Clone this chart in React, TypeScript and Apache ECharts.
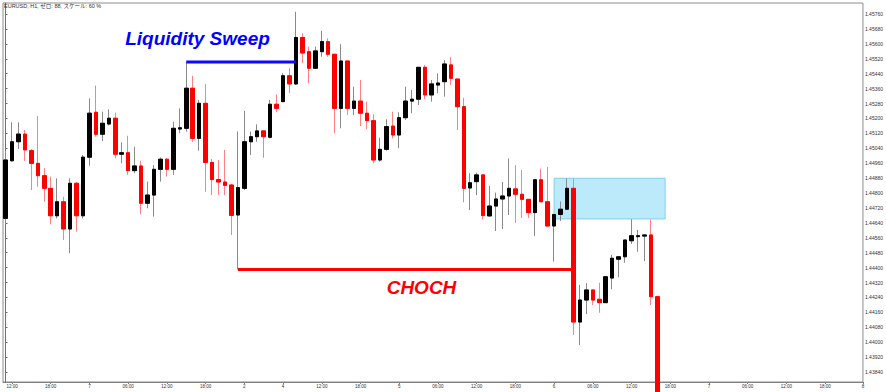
import React, { useEffect, useRef } from "react";
import * as echarts from "echarts";

// ---- data (EURUSD H1 candles, left to right) ----
const opens = [
  1.44664, 1.44973, 1.45075, 1.45116, 1.45027, 1.44959, 1.44893, 1.44825, 1.44678, 1.44753,
  1.44607, 1.44852, 1.44678, 1.44992, 1.45233, 1.45115, 1.45170, 1.45201, 1.45008, 1.45016,
  1.44920, 1.44945, 1.44745, 1.44789, 1.44927, 1.44981, 1.44927, 1.45143, 1.45147, 1.45362,
  1.45093, 1.45281, 1.44964, 1.44872, 1.44859, 1.44843, 1.44682, 1.44825, 1.45075, 1.45102,
  1.45133, 1.45099, 1.45276, 1.45290, 1.45429, 1.45385, 1.45634, 1.45558, 1.45469, 1.45558,
  1.45612, 1.45544, 1.45254, 1.45508, 1.45254, 1.45293, 1.45228, 1.45188, 1.44977, 1.45034,
  1.45159, 1.45111, 1.45204, 1.45293, 1.45303, 1.45474, 1.45326, 1.45379, 1.45397, 1.45487,
  1.45411, 1.45263, 1.44827, 1.44861, 1.44897, 1.44677, 1.44730, 1.44768, 1.44784, 1.44822,
  1.44793, 1.44766, 1.44695, 1.44871, 1.44753, 1.44623, 1.44685, 1.44713, 1.44825, 1.44108,
  1.44226, 1.44280, 1.44230, 1.44212, 1.44344, 1.44445, 1.44458, 1.44544, 1.44566, 1.44569,
  1.44575, 1.44244,
];
const closes = [
  1.44977, 1.45075, 1.45116, 1.45031, 1.44959, 1.44893, 1.44825, 1.44678, 1.44753, 1.44607,
  1.44852, 1.44678, 1.44992, 1.45228, 1.45115, 1.45174, 1.45201, 1.45008, 1.45016, 1.44920,
  1.44945, 1.44745, 1.44789, 1.44927, 1.44981, 1.44927, 1.45147, 1.45150, 1.45362, 1.45093,
  1.45281, 1.44964, 1.44872, 1.44859, 1.44841, 1.44680, 1.44829, 1.45075, 1.45102, 1.45133,
  1.45102, 1.45276, 1.45254, 1.45429, 1.45385, 1.45634, 1.45551, 1.45469, 1.45562, 1.45612,
  1.45544, 1.45254, 1.45508, 1.45254, 1.45293, 1.45228, 1.45188, 1.44977, 1.45034, 1.45156,
  1.45111, 1.45204, 1.45293, 1.45303, 1.45474, 1.45326, 1.45385, 1.45390, 1.45492, 1.45415,
  1.45263, 1.44825, 1.44855, 1.44897, 1.44679, 1.44730, 1.44768, 1.44784, 1.44825, 1.44793,
  1.44766, 1.44695, 1.44871, 1.44753, 1.44623, 1.44685, 1.44713, 1.44825, 1.44108, 1.44226,
  1.44280, 1.44226, 1.44212, 1.44351, 1.44450, 1.44458, 1.44548, 1.44571, 1.44571, 1.44575,
  1.44244, 1.43700,
];
const highs = [
  1.45027, 1.45179, 1.45179, 1.45138, 1.45036, 1.45213, 1.44933, 1.44888, 1.44879, 1.44780,
  1.44879, 1.44860, 1.45004, 1.45308, 1.45376, 1.45236, 1.45249, 1.45231, 1.45072, 1.45107,
  1.45048, 1.44973, 1.44861, 1.44950, 1.44990, 1.44988, 1.45182, 1.45254, 1.45501, 1.45429,
  1.45299, 1.45385, 1.44982, 1.44977, 1.45031, 1.44848, 1.45130, 1.45240, 1.45129, 1.45168,
  1.45133, 1.45299, 1.45329, 1.45442, 1.45469, 1.45772, 1.45657, 1.45585, 1.45585, 1.45670,
  1.45630, 1.45544, 1.45598, 1.45508, 1.45370, 1.45406, 1.45290, 1.45222, 1.45097, 1.45195,
  1.45236, 1.45233, 1.45370, 1.45352, 1.45476, 1.45487, 1.45406, 1.45442, 1.45513, 1.45528,
  1.45411, 1.45311, 1.44906, 1.44909, 1.44897, 1.44838, 1.44802, 1.44859, 1.44985, 1.44950,
  1.44923, 1.44766, 1.44871, 1.44931, 1.44940, 1.44685, 1.44755, 1.44878, 1.44878, 1.44307,
  1.44317, 1.44280, 1.44319, 1.44351, 1.44468, 1.44458, 1.44548, 1.44659, 1.44602, 1.44575,
  1.44659, 1.44249,
];
const lows = [
  1.44632, 1.44968, 1.45036, 1.44972, 1.44816, 1.44834, 1.44753, 1.44632, 1.44664, 1.44548,
  1.44477, 1.44593, 1.44664, 1.44946, 1.45102, 1.45079, 1.45162, 1.44986, 1.44959, 1.44897,
  1.44906, 1.44687, 1.44718, 1.44673, 1.44861, 1.44888, 1.44897, 1.45120, 1.45129, 1.45075,
  1.45027, 1.44807, 1.44789, 1.44789, 1.44789, 1.44575, 1.44390, 1.44816, 1.45004, 1.45075,
  1.44989, 1.45093, 1.45233, 1.45288, 1.45335, 1.45379, 1.45496, 1.45388, 1.45465, 1.45531,
  1.45531, 1.45120, 1.45147, 1.45218, 1.45218, 1.45159, 1.45142, 1.44959, 1.44968, 1.45027,
  1.45093, 1.45040, 1.45192, 1.45228, 1.45272, 1.45303, 1.45290, 1.45335, 1.45317, 1.45379,
  1.45138, 1.44750, 1.44709, 1.44789, 1.44658, 1.44677, 1.44596, 1.44607, 1.44682, 1.44639,
  1.44666, 1.44666, 1.44569, 1.44753, 1.44623, 1.44432, 1.44650, 1.44713, 1.44039, 1.43985,
  1.44151, 1.44199, 1.44158, 1.44212, 1.44284, 1.44348, 1.44426, 1.44527, 1.44485, 1.44435,
  1.44199, 1.43680,
];

const xTickIndex = [1, 7, 13, 19, 25, 31, 37, 43, 49, 55, 61, 67, 73, 79, 85, 91, 97, 103, 109, 115, 121, 127, 133];
const xTickLabels = [
  "12:00", "18:00", "7", "06:00", "12:00", "18:00", "2", "4", "12:00", "18:00", "5", "06:00",
  "12:00", "18:00", "6", "06:00", "12:00", "18:00", "7", "06:00", "12:00", "18:00", "8",
];
const yTickLabels = [
  "1.43840", "1.43920", "1.44000", "1.44080", "1.44160", "1.44240", "1.44320", "1.44400",
  "1.44480", "1.44560", "1.44640", "1.44720", "1.44800", "1.44880", "1.44960", "1.45040",
  "1.45120", "1.45200", "1.45280", "1.45360", "1.45440", "1.45520", "1.45600", "1.45680", "1.45760",
];

// annotations (data coordinates)
const sweepLevel = 1.45502;
const sweepRange = [28, 45];
const chochLevel = 1.4439;
const chochRange = [36, 88];
const zoneX = [85, 102.2];
const zoneY = [1.44879, 1.44661];

const X_MIN = -0.395;
const X_MAX = 132.85;
const Y_MIN = 1.437864;
const Y_MAX = 1.45819;

const FONT = '"Liberation Sans", Arial, "Noto Sans CJK JP", sans-serif';

export default function App() {
  const ref = useRef<HTMLDivElement>(null);
  useEffect(() => {
    if (!ref.current) return;
    const chart = echarts.init(ref.current, null, { renderer: "svg" });
    const xVals = xTickIndex.map((v) => Math.min(v, X_MAX));
    const yVals = yTickLabels.map(Number);
    const wickData = opens.map((o, i) => [i, o, closes[i], lows[i], highs[i]]);
    const bodyData = opens.map((o, i) => [i, o, closes[i], Math.min(o, closes[i]), Math.max(o, closes[i])]);
    chart.setOption({
      animation: false,
      backgroundColor: "#ffffff",
      textStyle: { fontFamily: FONT },
      grid: {
        left: 3,
        right: 23,
        top: 3,
        bottom: 10,
        show: true,
        borderColor: "#8c8c8c",
        borderWidth: 1,
        backgroundColor: "transparent",
      },
      xAxis: {
        type: "value",
        min: X_MIN,
        max: X_MAX,
        position: "bottom",
        axisLine: { show: true, lineStyle: { color: "#808080", width: 1 } },
        axisTick: { show: true, customValues: xVals, length: 2, lineStyle: { color: "#808080" } },
        axisLabel: {
          customValues: xVals,
          fontSize: 4.5,
          color: "#333",
          margin: 2,
          fontFamily: FONT,
          formatter: (v: number) => {
            const j = xVals.findIndex((t) => Math.abs(t - v) < 0.01);
            return j >= 0 ? xTickLabels[j] : "";
          },
        },
        splitLine: { show: false },
      },
      yAxis: {
        type: "value",
        position: "right",
        min: Y_MIN,
        max: Y_MAX,
        scale: true,
        axisLine: { show: true, lineStyle: { color: "#707070", width: 1 } },
        axisTick: { show: true, customValues: yVals, length: 2, lineStyle: { color: "#707070" } },
        axisLabel: {
          customValues: yVals,
          fontSize: 5,
          color: "#333",
          margin: 2,
          fontFamily: FONT,
          formatter: (v: number) => v.toFixed(5),
        },
        splitLine: { show: false },
      },
      series: [
        {
          type: "candlestick",
          name: "wick",
          silent: true,
          data: wickData,
          barWidth: 4,
          clip: true,
          z: 2,
          itemStyle: {
            color: "transparent",
            color0: "transparent",
            borderColor: "#8a8a8a",
            borderColor0: "#ff8080",
            borderWidth: 1,
          },
          markArea: {
            silent: true,
            itemStyle: { color: "#bdeafb", borderColor: "#7fd0f0", borderWidth: 1 },
            data: [[{ xAxis: zoneX[0], yAxis: zoneY[0] }, { xAxis: zoneX[1], yAxis: zoneY[1] }]],
          },
        },
        {
          type: "candlestick",
          name: "body",
          silent: true,
          data: bodyData,
          barWidth: 4,
          clip: true,
          z: 3,
          itemStyle: {
            color: "#000000",
            color0: "#ff0000",
            borderColor: "#000000",
            borderColor0: "#ff0000",
            borderWidth: 1,
          },
        },
        {
          type: "line",
          silent: true,
          symbol: "none",
          z: 4,
          data: [[sweepRange[0], sweepLevel], [sweepRange[1], sweepLevel]],
          lineStyle: { color: "#0a0aff", width: 3 },
        },
        {
          type: "line",
          silent: true,
          symbol: "none",
          z: 4,
          data: [[chochRange[0], chochLevel], [chochRange[1], chochLevel]],
          lineStyle: { color: "#ff0000", width: 3 },
        },
      ],
      graphic: [
        {
          type: "text",
          x: 4,
          y: 3,
          z: 10,
          style: {
            text: "EURUSD, H1, ゼロ: 88, スケール: 60 %",
            fontSize: 5.5,
            fontFamily: FONT,
            fill: "#333",
            verticalAlign: "top",
          },
        },
        {
          type: "text",
          x: 197.5,
          y: 38,
          z: 10,
          style: {
            text: "Liquidity Sweep",
            font: 'italic bold 19px "Liberation Sans", Arial, sans-serif',
            fill: "#0000ff",
            align: "center",
            verticalAlign: "middle",
          },
        },
        {
          type: "text",
          x: 421.5,
          y: 287,
          z: 10,
          style: {
            text: "CHOCH",
            font: 'italic bold 19px "Liberation Sans", Arial, sans-serif',
            fill: "#ff0000",
            align: "center",
            verticalAlign: "middle",
          },
        },
      ],
    });
    return () => chart.dispose();
  }, []);
  return (
    <div
      ref={ref}
      style={{ position: "fixed", left: 0, top: 0, width: 886, height: 392, background: "#fff" }}
    />
  );
}
